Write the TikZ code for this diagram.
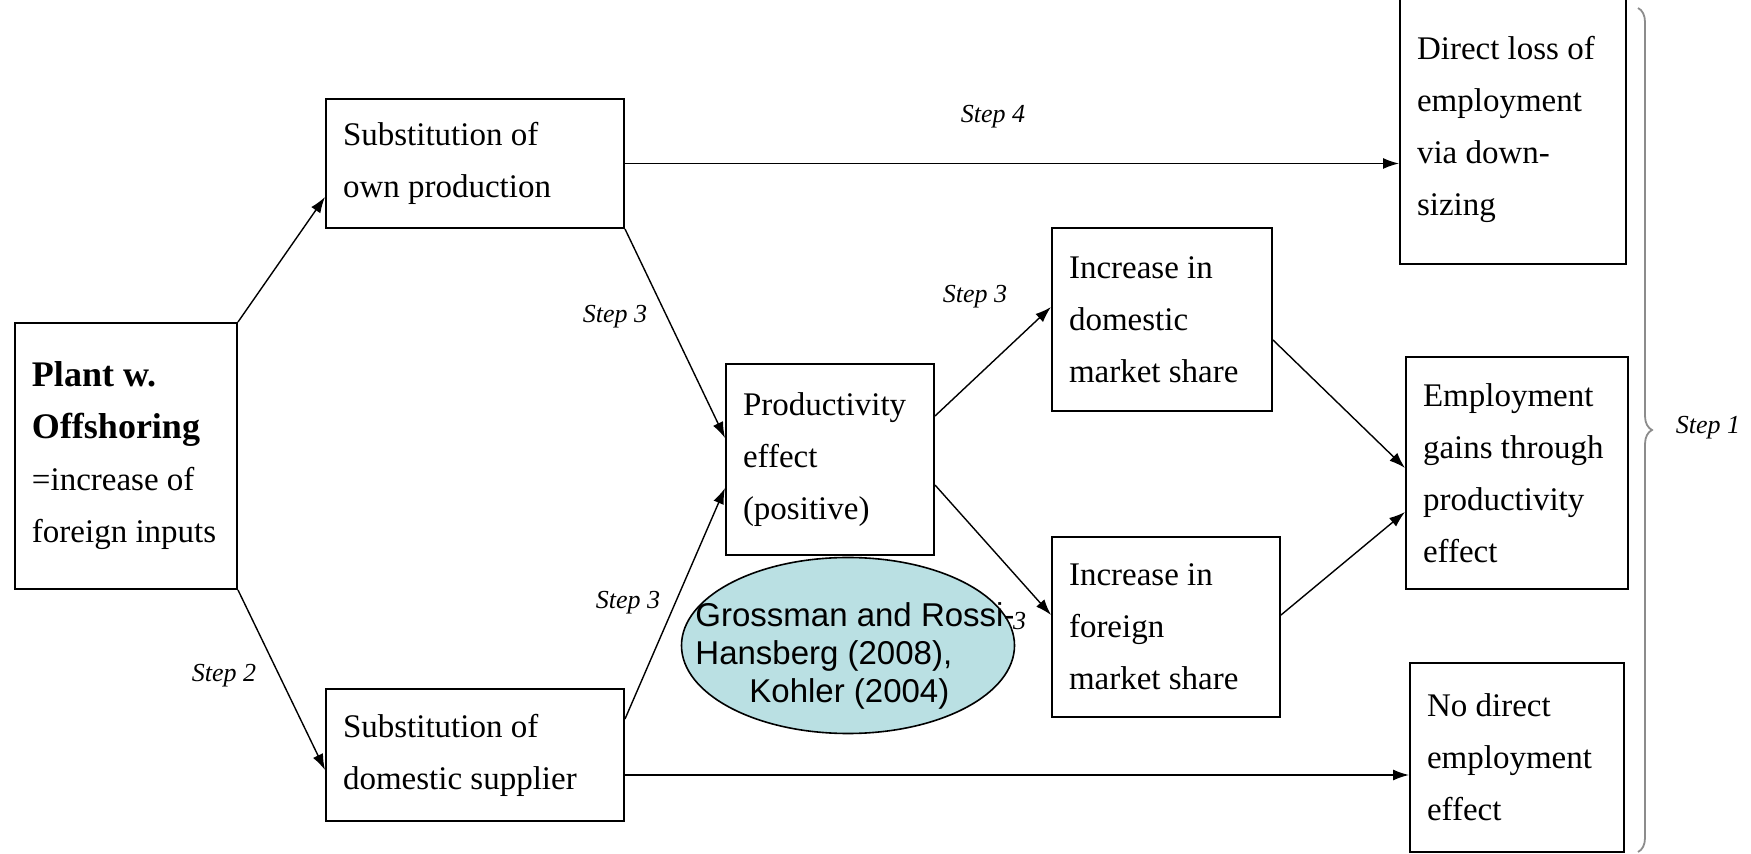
\documentclass[tikz,border=0pt]{standalone}
\usepackage{fontspec}
\setmainfont{Liberation Serif}
\newfontfamily\quellfont{Liberation Sans}
\usepackage{tikz}
\usetikzlibrary{arrows.meta, shapes.geometric, decorations.pathreplacing}
\definecolor{quellblau}{HTML}{BAE0E3}
\newcommand\fett[1]{{\fontsize{18}{26}\selectfont\bfseries #1}}

\begin{document}
\begin{tikzpicture}[
    x=0.5pt, y=-0.5pt,
    kasten/.style={draw, line width=1pt, rectangle, align=flush left,
      inner xsep=8.5pt, inner ysep=0pt, font=\fontsize{16.5}{26}\selectfont},
    pfeil/.style={line width=0.7pt, -{Latex[length=8pt,width=5.5pt]}},
    schritt/.style={font=\fontsize{13}{15}\selectfont\itshape},
  ]
  \useasboundingbox (0,0) rectangle (1751,854);

  % Kaesten
  \node[kasten, text width=94pt, minimum height=133pt] (plant) at (126,456)
    {\fett{Plant w.}\\ \fett{Offshoring}\\ =increase of\\ foreign inputs};
  \node[kasten, text width=132pt, minimum height=64.5pt] (eigen) at (475,163.5)
    {Substitution of\\ own production};
  \node[kasten, text width=132pt, minimum height=66pt] (zuliefer) at (475,755)
    {Substitution of\\ domestic supplier};
  \node[kasten, text width=87pt, minimum height=95.5pt] (prod) at (830,459.5)
    {Productivity\\ effect\\ (positive)};
  \node[kasten, text width=93pt, minimum height=91.5pt] (inland) at (1162,319.5)
    {Increase in\\ domestic\\ market share};
  \node[kasten, text width=97pt, minimum height=90pt] (ausland) at (1166,627)
    {Increase in\\ foreign\\ market share};
  \node[kasten, text width=96pt, minimum height=135pt] (verlust) at (1513,129)
    {Direct loss of\\ employment\\ via down-\\ sizing};
  \node[kasten, text width=94pt, minimum height=116pt] (gewinn) at (1517,473)
    {Employment\\ gains through\\ productivity\\ effect};
  \node[kasten, text width=90pt, minimum height=94.5pt] (keiner) at (1517,757.5)
    {No direct\\ employment\\ effect};

  % Pfeile
  \draw[pfeil] (plant.north east) -- ([yshift=-16.75pt]eigen.west);
  \draw[pfeil] (plant.south east) -- ([yshift=-7.5pt]zuliefer.west);
  \draw[pfeil] (eigen.south east) -- ([yshift=10.75pt]prod.west);
  \draw[pfeil] ([yshift=-15.5pt]zuliefer.north east) -- ([yshift=-14.25pt]prod.west);
  \draw[pfeil] ([yshift=21.75pt]prod.east) -- ([yshift=6.25pt]inland.west);
  \draw[pfeil] ([yshift=-12.75pt]prod.east) -- ([yshift=6pt]ausland.west);
  \draw[pfeil] ([yshift=-10.25pt]inland.east) -- ([yshift=2.5pt]gewinn.west);
  \draw[pfeil] ([yshift=6pt]ausland.east) -- ([yshift=-19.5pt]gewinn.west);
  \draw[pfeil] (eigen.east) -- (eigen.east -| verlust.west);
  \coordinate (zaus) at ([yshift=-10pt]zuliefer.east);
  \draw[pfeil] (zaus) -- (zaus -| keiner.west);

  % Schritte
  \node[schritt] (s4) at (993,117) {Step 4};
  \node[schritt] (s3a) at (615,317) {Step 3};
  \node[schritt] (s3b) at (628,603) {Step 3};
  \node[schritt] (s3c) at (975,297) {Step 3};
  \node[schritt] (s3d) at (994,624) {Step 3};
  \node[schritt] (s2) at (224,676) {Step 2};
  \node[schritt] (s1) at (1708,428) {Step 1};

  % Quelle (verdeckt Step 3)
  \node[ellipse, draw, fill=quellblau, line width=0.8pt, minimum width=166.5pt,
    minimum height=88pt, inner sep=0pt] (quelle) at (848,645.5) {};
  \node[align=left, font=\quellfont\fontsize{16.5}{19}\selectfont] (quelletxt) at (855,656)
    {Grossman and Rossi-\\ Hansberg (2008),\\ \hspace*{27pt}Kohler (2004)};

  % Klammer
  \draw[decorate, decoration={brace, amplitude=7pt}, line width=0.9pt, black!45]
    (1638,8) -- (1638,852);
\end{tikzpicture}
\end{document}
